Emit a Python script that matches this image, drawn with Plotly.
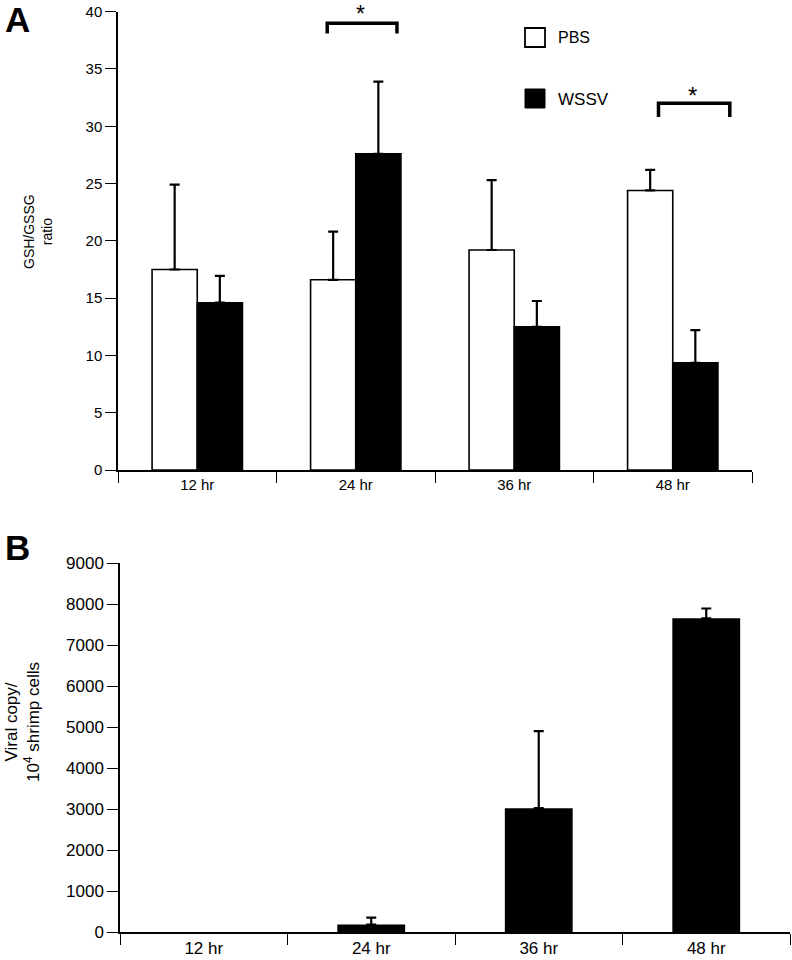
import plotly.graph_objects as go

# ---- data ----
times = ["12 hr", "24 hr", "36 hr", "48 hr"]
pbs_ratio = [17.5, 16.6, 19.2, 24.4]
pbs_err = [7.4, 4.2, 6.1, 1.8]
wssv_ratio = [14.6, 27.6, 12.5, 9.35]
wssv_err = [2.35, 6.3, 2.25, 2.85]
viral_copy = [0, 180, 3020, 7650]
viral_err = [0, 170, 1880, 240]
ratio_ticks = [0, 5, 10, 15, 20, 25, 30, 35, 40]
viral_ticks = [0, 1000, 2000, 3000, 4000, 5000, 6000, 7000, 8000, 9000]

FONT = "Arial, Liberation Sans, sans-serif"
W, H = 792, 960

fig = go.Figure()

fig.add_trace(go.Bar(
    x=times, y=pbs_ratio, name="PBS", xaxis="x", yaxis="y",
    marker=dict(color="white", line=dict(color="black", width=1.6)),
    error_y=dict(type="data", array=pbs_err, arrayminus=[0]*4, symmetric=False,
                 color="black", thickness=2.2, width=5),
    showlegend=False,
))
fig.add_trace(go.Bar(
    x=times, y=wssv_ratio, name="WSSV", xaxis="x", yaxis="y",
    marker=dict(color="black", line=dict(color="black", width=1.6)),
    error_y=dict(type="data", array=wssv_err, arrayminus=[0]*4, symmetric=False,
                 color="black", thickness=2.2, width=5),
    showlegend=False,
))
# zero-valued bars are not drawn at all (no bar, no error cap), as in the reference
viral_drawn = [v if v > 0 else None for v in viral_copy]
fig.add_trace(go.Bar(
    x=times, y=viral_drawn, name="WSSV", xaxis="x2", yaxis="y2", width=0.405,
    marker=dict(color="black", line=dict(width=0)),
    error_y=dict(type="data", array=viral_err, arrayminus=[0]*4, symmetric=False,
                 color="black", thickness=2.2, width=5),
    showlegend=False,
))

def px_x(p):
    return p / W

def px_y(p):
    return 1 - p / H

def axis_common(size):
    return dict(showgrid=False, zeroline=False, showline=True, linecolor="black",
                linewidth=1.5, ticks="outside", tickcolor="black", tickwidth=1.3,
                ticklen=11, automargin=False,
                tickfont=dict(family=FONT, size=size, color="black"))

fig.update_layout(
    width=W, height=H,
    margin=dict(l=0, r=0, t=0, b=0, pad=0, autoexpand=False),
    paper_bgcolor="white", plot_bgcolor="white",
    barmode="group", bargap=0.43, bargroupgap=0,
    font=dict(family=FONT, color="black"),
    xaxis=dict(axis_common(15), domain=[px_x(118), px_x(752)], anchor="y",
               tickson="boundaries"),
    yaxis=dict(axis_common(15), domain=[px_y(470), px_y(11.7)], anchor="x",
               range=[0, 40], tickvals=ratio_ticks),
    xaxis2=dict(axis_common(17), domain=[px_x(120), px_x(790)], anchor="y2",
                tickson="boundaries"),
    yaxis2=dict(axis_common(17), domain=[px_y(932), px_y(563)], anchor="x2",
                range=[0, 9000], tickvals=viral_ticks),
)

# significance brackets (category index + offsets)
brackets = [(1, -0.18, 0.26, 39.0, 38.1),
            (3, -0.09, 0.36, 32.0, 30.8)]
for ci, a, b, ytop, yend in brackets:
    fig.add_shape(type="path", xref="x", yref="y",
                  path=f"M {ci+a},{yend} L {ci+a},{ytop} L {ci+b},{ytop} L {ci+b},{yend}",
                  line=dict(color="black", width=3.5))
# stars
fig.add_annotation(x=px_x(360), y=px_y(0), xref="paper", yref="paper", text="*",
                   showarrow=False, yanchor="top", xanchor="center", borderpad=0,
                   font=dict(family=FONT, size=23, color="black"))
fig.add_annotation(x=px_x(692), y=px_y(80), xref="paper", yref="paper", text="*",
                   showarrow=False, yanchor="top", xanchor="center",
                   font=dict(family=FONT, size=24, color="black"))

# legend
fig.add_shape(type="rect", xref="paper", yref="paper",
              x0=px_x(525), x1=px_x(545), y0=px_y(47), y1=px_y(28),
              line=dict(color="black", width=1.8), fillcolor="white")
fig.add_shape(type="rect", xref="paper", yref="paper",
              x0=px_x(525), x1=px_x(545), y0=px_y(108), y1=px_y(89),
              line=dict(color="black", width=1), fillcolor="black")
fig.add_annotation(x=px_x(556), y=px_y(38), xref="paper", yref="paper", text="PBS",
                   showarrow=False, xanchor="left", yanchor="middle",
                   font=dict(family=FONT, size=16, color="black"))
fig.add_annotation(x=px_x(556), y=px_y(99), xref="paper", yref="paper", text="WSSV",
                   showarrow=False, xanchor="left", yanchor="middle",
                   font=dict(family=FONT, size=17, color="black"))

# panel letters
fig.add_annotation(x=px_x(3), y=px_y(-2), xref="paper", yref="paper", text="<b>A</b>",
                   showarrow=False, xanchor="left", yanchor="top",
                   font=dict(family=FONT, size=35, color="black"))
fig.add_annotation(x=px_x(3), y=px_y(526), xref="paper", yref="paper", text="<b>B</b>",
                   showarrow=False, xanchor="left", yanchor="top",
                   font=dict(family=FONT, size=35, color="black"))

# y-axis titles
fig.add_annotation(x=px_x(38), y=px_y(232), xref="paper", yref="paper",
                   text="GSH/GSSG<br>ratio", showarrow=False, textangle=-90,
                   xanchor="center", yanchor="middle",
                   font=dict(family=FONT, size=14, color="black"))
fig.add_annotation(x=px_x(22), y=px_y(722), xref="paper", yref="paper",
                   text="Viral copy/<br>10<sup>4</sup> shrimp cells", showarrow=False, textangle=-90,
                   xanchor="center", yanchor="middle",
                   font=dict(family=FONT, size=17, color="black"))

fig.write_html("out.html", config={"displayModeBar": False},
               post_script="document.body.style.margin='0';document.body.style.overflow='hidden';")
